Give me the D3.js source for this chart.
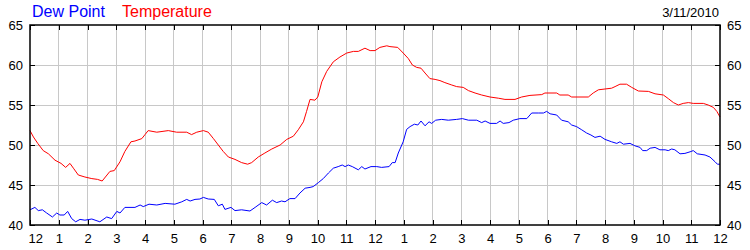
<!DOCTYPE html>
<html>
<head>
<meta charset="utf-8">
<script src="https://cdn.jsdelivr.net/npm/d3@7"></script>
<style>
  body { margin: 0; background: #fff; }
  svg { display: block; font-family: "Liberation Sans", Arial, sans-serif; }
</style>
</head>
<body>
<div id="chart"></div>
<script>
// hours since midnight
const tempHours = [0, 0.12, 0.27, 0.46, 0.64, 0.87, 1.08, 1.24, 1.39, 1.51, 1.68, 1.91, 2.15, 2.35, 2.51, 2.78, 2.93, 3.13, 3.3, 3.51, 3.65, 3.89, 4.0, 4.11, 4.41, 4.81, 5.1, 5.45, 5.62, 5.8, 6.03, 6.2, 6.38, 6.55, 6.72, 6.9, 7.13, 7.36, 7.57, 7.71, 7.94, 8.17, 8.41, 8.7, 8.93, 9.16, 9.33, 9.51, 9.62, 9.74, 9.91, 10.01, 10.15, 10.32, 10.55, 10.78, 11.02, 11.25, 11.42, 11.65, 11.83, 12.0, 12.17, 12.41, 12.52, 12.79, 12.98, 13.16, 13.3, 13.45, 13.6, 13.74, 13.91, 14.09, 14.26, 14.43, 14.67, 14.84, 15.07, 15.25, 15.48, 15.71, 16.0, 16.29, 16.52, 16.87, 17.1, 17.39, 17.8, 17.91, 18.32, 18.43, 18.72, 18.84, 19.42, 19.59, 19.77, 20.0, 20.23, 20.35, 20.52, 20.75, 20.93, 21.16, 21.51, 21.74, 22.03, 22.2, 22.38, 22.55, 22.72, 22.9, 23.07, 23.42, 23.59, 23.77, 23.89, 24.0];
const tempValues = [51.8, 51.0, 50.2, 49.3, 48.9, 48.1, 47.7, 47.2, 47.7, 47.1, 46.25, 46.0, 45.8, 45.7, 45.5, 46.7, 46.8, 47.9, 49.2, 50.4, 50.5, 50.8, 51.3, 51.8, 51.6, 51.8, 51.6, 51.6, 51.3, 51.6, 51.8, 51.6, 50.8, 50.0, 49.2, 48.5, 48.2, 47.8, 47.6, 47.8, 48.5, 49.0, 49.5, 50.0, 50.7, 51.1, 51.9, 52.9, 54.2, 55.7, 55.6, 56.0, 57.9, 59.2, 60.4, 61.0, 61.5, 61.7, 61.7, 62.1, 61.8, 61.8, 62.2, 62.4, 62.3, 62.2, 61.5, 60.8, 60.0, 59.7, 59.6, 59.0, 58.3, 58.2, 58.05, 57.8, 57.5, 57.3, 57.2, 56.8, 56.5, 56.25, 56.0, 55.85, 55.7, 55.7, 56.0, 56.2, 56.3, 56.5, 56.5, 56.25, 56.25, 56.0, 56.0, 56.5, 56.9, 57.0, 57.1, 57.3, 57.6, 57.6, 57.2, 56.75, 56.7, 56.4, 56.25, 55.8, 55.3, 55.0, 55.2, 55.3, 55.2, 55.2, 55.0, 54.7, 54.2, 53.5];

const dewHours = [0, 0.17, 0.29, 0.43, 0.58, 0.78, 0.93, 1.04, 1.19, 1.31, 1.45, 1.59, 1.74, 1.91, 2.15, 2.43, 2.67, 2.84, 3.02, 3.13, 3.3, 3.65, 3.83, 3.94, 4.14, 4.41, 4.7, 5.04, 5.28, 5.45, 5.57, 5.74, 5.91, 6.03, 6.2, 6.41, 6.55, 6.69, 6.78, 6.99, 7.13, 7.36, 7.65, 7.83, 8.06, 8.23, 8.43, 8.58, 8.75, 8.87, 9.04, 9.22, 9.39, 9.57, 9.74, 9.85, 10.03, 10.2, 10.38, 10.55, 10.72, 10.86, 10.96, 11.07, 11.21, 11.42, 11.54, 11.65, 11.86, 12.06, 12.23, 12.49, 12.6, 12.7, 12.81, 12.98, 13.1, 13.22, 13.37, 13.49, 13.6, 13.74, 13.88, 13.97, 14.11, 14.32, 14.55, 14.84, 15.04, 15.25, 15.54, 15.71, 15.83, 16.0, 16.23, 16.35, 16.46, 16.66, 16.81, 17.04, 17.28, 17.45, 17.68, 17.86, 17.97, 18.09, 18.32, 18.49, 18.72, 18.84, 19.01, 19.19, 19.36, 19.51, 19.65, 19.83, 20.0, 20.23, 20.41, 20.52, 20.64, 20.87, 21.04, 21.22, 21.31, 21.45, 21.57, 21.74, 21.91, 22.09, 22.2, 22.32, 22.43, 22.61, 22.78, 22.96, 23.07, 23.21, 23.48, 23.65, 23.83, 23.91, 24.0];
const dewValues = [41.9, 42.2, 41.8, 41.9, 41.5, 41.0, 41.5, 41.25, 41.25, 41.7, 40.8, 40.4, 40.7, 40.6, 40.75, 40.4, 41.0, 40.8, 41.7, 41.5, 42.2, 42.2, 42.5, 42.3, 42.6, 42.5, 42.7, 42.6, 42.9, 43.2, 43.0, 43.2, 43.25, 43.45, 43.25, 43.2, 42.4, 42.6, 41.95, 42.2, 41.8, 41.9, 41.75, 42.2, 42.8, 42.5, 43.1, 42.8, 43.0, 42.9, 43.3, 43.3, 44.0, 44.6, 44.7, 44.8, 45.3, 45.8, 46.5, 47.1, 47.3, 47.5, 47.3, 47.5, 47.3, 46.9, 47.3, 47.0, 47.3, 47.3, 47.2, 47.3, 47.8, 47.8, 49.0, 50.4, 51.95, 52.3, 52.6, 52.5, 53.0, 52.4, 52.9, 52.7, 53.1, 53.2, 53.1, 53.2, 53.3, 53.1, 53.1, 52.8, 53.0, 52.7, 52.7, 53.0, 52.7, 52.8, 53.1, 53.3, 53.3, 54.0, 54.0, 54.0, 54.2, 53.9, 53.75, 53.1, 52.9, 52.5, 52.3, 51.9, 51.5, 51.25, 50.95, 51.1, 50.7, 50.4, 50.2, 50.4, 50.1, 50.2, 49.9, 49.7, 49.3, 49.3, 49.6, 49.7, 49.4, 49.4, 49.3, 49.5, 49.4, 48.9, 48.95, 49.15, 49.3, 48.9, 48.75, 48.5, 47.9, 47.6, 47.6];

const hourTicks = d3.range(0, 25);
const tempTicks = [40, 45, 50, 55, 60, 65];
const dateLabel = "3/11/2010";

const width = 750;
const height = 250;
const margin = { top: 25, right: 30, bottom: 25, left: 30 };

const x = d3.scaleLinear().domain([0, 24]).range([margin.left, width - margin.right]);
const y = d3.scaleLinear().domain([40, 65]).range([height - margin.bottom, margin.top]);

const svg = d3.select("#chart").append("svg")
  .attr("width", width)
  .attr("height", height);

// grid
svg.append("g")
  .attr("stroke", "#c8c8c8")
  .attr("shape-rendering", "crispEdges")
  .call(g => g.selectAll("line.v")
    .data(hourTicks.slice(1, -1))
    .join("line")
    .attr("class", "v")
    .attr("x1", d => x(d)).attr("x2", d => x(d))
    .attr("y1", y(40)).attr("y2", y(65)))
  .call(g => g.selectAll("line.h")
    .data(tempTicks.slice(1, -1))
    .join("line")
    .attr("class", "h")
    .attr("x1", x(0)).attr("x2", x(24))
    .attr("y1", d => y(d)).attr("y2", d => y(d)));

const line = d3.line()
  .x(d => x(d[0]))
  .y(d => y(d[1]));

svg.append("path")
  .datum(d3.zip(dewHours, dewValues))
  .attr("fill", "none")
  .attr("stroke", "#0000ff")
  .attr("stroke-width", 1)
  .attr("d", line);

svg.append("path")
  .datum(d3.zip(tempHours, tempValues))
  .attr("fill", "none")
  .attr("stroke", "#ff0000")
  .attr("stroke-width", 1)
  .attr("d", line);

function styleAxis(g) {
  g.select(".domain").remove();
  g.selectAll(".tick line").attr("stroke", "#000").attr("shape-rendering", "crispEdges");
  g.selectAll(".tick text").attr("fill", "#000").attr("font-size", 13)
    .attr("font-family", "'Liberation Sans', Arial, sans-serif");
}

const hourFormat = h => (h % 12) || 12;

svg.append("g")
  .attr("transform", `translate(0,${y(40)})`)
  .call(d3.axisBottom(x).tickValues(hourTicks).tickFormat(hourFormat)
    .tickSizeInner(-5).tickSizeOuter(0).tickPadding(9))
  .call(styleAxis)
  .call(g => g.select(".tick text").attr("text-anchor", "start").attr("dx", -2));

svg.append("g")
  .attr("transform", `translate(0,${y(65)})`)
  .call(d3.axisTop(x).tickValues(hourTicks).tickFormat("")
    .tickSizeInner(-5).tickSizeOuter(0))
  .call(styleAxis);

svg.append("g")
  .attr("transform", `translate(${x(0)},0)`)
  .call(d3.axisLeft(y).tickValues(tempTicks).tickSizeInner(-5).tickSizeOuter(0).tickPadding(7))
  .call(styleAxis);

svg.append("g")
  .attr("transform", `translate(${x(24)},0)`)
  .call(d3.axisRight(y).tickValues(tempTicks).tickSizeInner(-5).tickSizeOuter(0).tickPadding(7))
  .call(styleAxis);

// frame
svg.append("rect")
  .attr("x", x(0)).attr("y", y(65))
  .attr("width", x(24) - x(0)).attr("height", y(40) - y(65))
  .attr("fill", "none")
  .attr("stroke", "#000")
  .attr("stroke-width", 1.5);

// legend + date
svg.append("text").attr("x", 32).attr("y", 17)
  .attr("font-size", 16).attr("fill", "#0000ff").text("Dew Point");
svg.append("text").attr("x", 122).attr("y", 17)
  .attr("font-size", 16).attr("fill", "#ff0000").text("Temperature");
svg.append("text").attr("x", 719).attr("y", 17)
  .attr("font-size", 13).attr("fill", "#000").attr("text-anchor", "end").text(dateLabel);
</script>
</body>
</html>
